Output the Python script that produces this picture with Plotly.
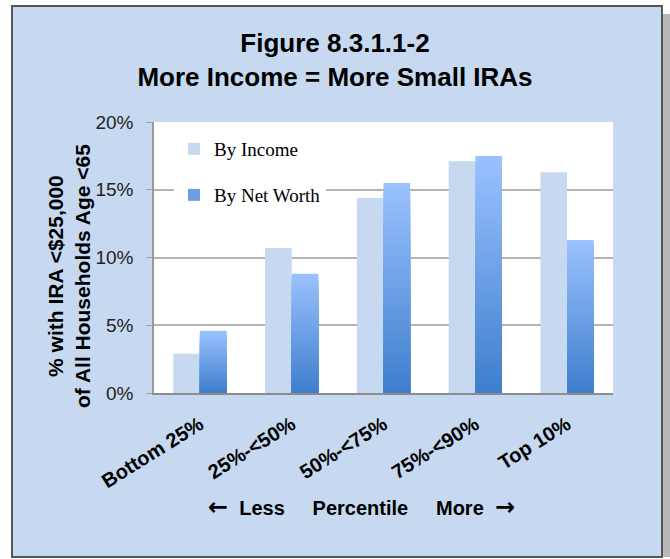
import plotly.graph_objects as go
import numpy as np

categories = ["Bottom 25%", "25%-<50%", "50%-<75%", "75%-<90%", "Top 10%"]
by_income = [2.9, 10.7, 14.4, 17.1, 16.3]
by_net_worth = [4.6, 8.8, 15.5, 17.5, 11.3]
y_tick_values = [0, 5, 10, 15, 20]
y_tick_labels = ["0%", "5%", "10%", "15%", "20%"]

W, H = 670, 559
ML, MR, MT, MB = 154, 57, 122, 166
PW, PH = W - ML - MR, H - MT - MB


def px(xp):
    return (xp - ML) / PW


def py(yp):
    return (H - MB - yp) / PH


BG = "#C6D9F0"
fig = go.Figure()
fig.add_trace(go.Bar(
    x=categories, y=by_income, name="By Income",
    marker=dict(color="#C6D9F0", line=dict(width=0)),
    offsetgroup="inc", legend="legend", showlegend=True, hoverinfo="skip"))

# gradient on net-worth bars: layered bars from the data values
top_c = np.array([155, 194, 255])
bot_c = np.array([62, 126, 204])
N = 40
vals = np.array(by_net_worth)
for k in range(N, 0, -1):
    f = (k - 0.5) / N
    c = bot_c + (top_c - bot_c) * f
    col = "rgb(%d,%d,%d)" % tuple(c.round().astype(int))
    fig.add_trace(go.Bar(
        x=categories, y=vals * k / N, base=0, name="By Net Worth",
        marker=dict(color=col, line=dict(width=0)),
        offsetgroup="nw", legend="legend2",
        showlegend=(k == N // 2), hoverinfo="skip"))

fig.update_layout(
    width=W, height=H,
    margin=dict(l=ML, r=MR, t=MT, b=MB),
    paper_bgcolor="white", plot_bgcolor="white",
    showlegend=True,
    barmode="group", bargap=0.42, bargroupgap=0,
    font=dict(family="Liberation Sans, Arial", color="black"),
    title=dict(text="Figure 8.3.1.1-2<br>More Income = More Small IRAs",
               x=0.5, xref="container", xanchor="center",
               y=1 - 52 / H, yref="container", yanchor="middle",
               font=dict(family="Liberation Sans, Arial", size=26, color="black", weight="bold")),
    xaxis=dict(
        tickangle=-32, showgrid=False, ticks="", ticklabelstandoff=10,
        tickfont=dict(family="Liberation Sans, Arial", size=20, color="black", weight="bold"),
        showline=True, linecolor="#8c8c8c", linewidth=2),
    yaxis=dict(
        range=[0, 20], tickvals=y_tick_values, ticktext=y_tick_labels,
        ticks="outside", ticklen=6, tickcolor="#a0a0a0", ticklabelstandoff=9,
        tickfont=dict(family="Liberation Sans, Arial", size=19, color="#222"),
        showgrid=True, gridcolor="#b4b4b4", gridwidth=1.5,
        showline=True, linecolor="#9a9a9a", linewidth=1.5, zeroline=False),
    legend=dict(x=px(174), xanchor="left", y=py(149), yanchor="middle",
                bgcolor="white", font=dict(family="Liberation Serif, Times New Roman", size=19, color="black")),
    legend2=dict(x=px(174), xanchor="left", y=py(195), yanchor="middle",
                 bgcolor="white", font=dict(family="Liberation Serif, Times New Roman", size=19, color="black")),
    shapes=[
        dict(type="rect", xref="paper", yref="paper", x0=px(662), x1=px(670), y0=py(14), y1=py(557),
             fillcolor="#b8b8b8", line=dict(width=0), layer="below"),
        dict(type="rect", xref="paper", yref="paper", x0=px(12), x1=px(662), y0=py(6), y1=py(557),
             fillcolor=BG, line=dict(color="#555555", width=2), layer="below"),
        dict(type="rect", xref="paper", yref="paper", x0=0, x1=1, y0=0, y1=1,
             fillcolor="white", line=dict(width=0), layer="below"),
    ],
    annotations=[
        dict(text="% with IRA <$25,000<br>of All Households Age <65", textangle=-90,
             xref="paper", yref="paper", x=px(69), y=py(276), xanchor="center", yanchor="middle",
             showarrow=False,
             font=dict(family="Liberation Sans, Arial", size=21, color="black", weight="bold")),
        dict(text="<span style='font-family:DejaVu Sans;font-size:24px'>\u2190</span>  Less     Percentile     More  "
                  "<span style='font-family:DejaVu Sans;font-size:24px'>\u2192</span>",
             xref="paper", yref="paper", x=px(361), y=py(507), xanchor="center", yanchor="middle",
             showarrow=False,
             font=dict(family="Liberation Sans, Arial", size=20, color="black", weight="bold")),
    ],
)

fig.write_html("out.html", config={"displayModeBar": False},
               post_script="document.body.style.margin='0px';")
